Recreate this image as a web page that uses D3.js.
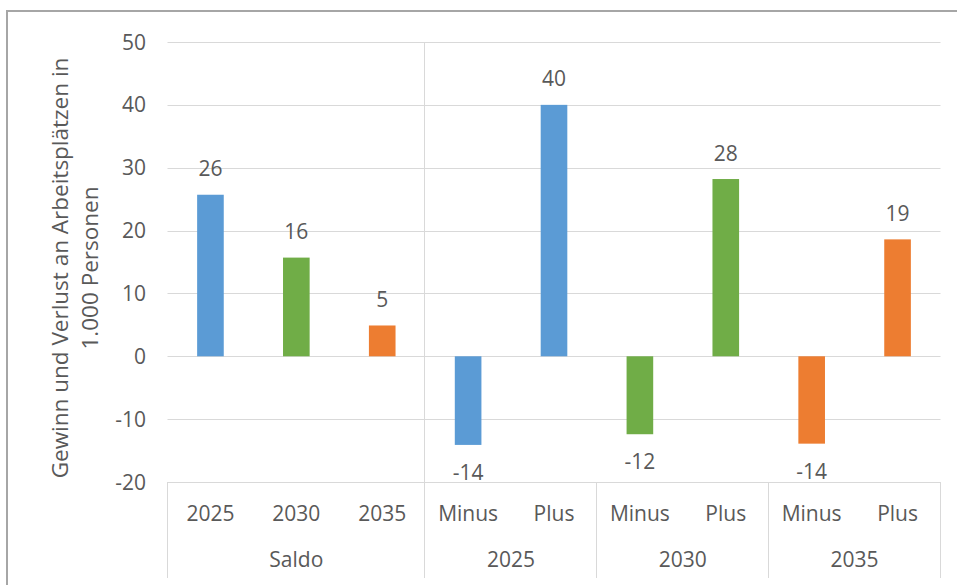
<!DOCTYPE html>
<html><head><meta charset="utf-8">
<script src="https://cdn.jsdelivr.net/npm/d3@7"></script>
<style>html,body{margin:0;padding:0;background:#fff;}svg{display:block;}</style>
</head><body>
<svg id="chart" width="957" height="585"></svg>
<script>
const categories = ["2025","2030","2035","Minus","Plus","Minus","Plus","Minus","Plus"];
const groups = ["Saldo","2025","2030","2035"];
const groupSizes = [3,2,2,2];
const values = [25.7,15.7,4.9,-14.1,40.0,-12.4,28.2,-13.9,18.6];
const valueLabels = ["26","16","5","-14","40","-12","28","-14","19"];
const seriesKeys = ["2025","2030","2035","2025","2025","2030","2030","2035","2035"];
const yTicks = [-20,-10,0,10,20,30,40,50];
const colorMap = {"2025":"#5B9BD5","2030":"#70AD47","2035":"#ED7D31"};

(function(){
const svg = d3.select("#chart");
const font = "'Open Sans', sans-serif";
const textColor = "#595959";
const gridColor = "#d9d9d9";

// chart border
svg.append("rect").attr("x",7).attr("y",11).attr("width",980).attr("height",620)
  .attr("fill","none").attr("stroke","#a6a6a6").attr("stroke-width",2);

const pLeft = 167.5, pRight = 940.5, pTop = 42, pBottom = 482;
const x = d3.scaleBand().domain(d3.range(categories.length)).range([pLeft,pRight]).padding(0);
const y = d3.scaleLinear().domain([-20,50]).range([pBottom,pTop]);

// gridlines
svg.append("g").selectAll("line").data(yTicks).join("line")
  .attr("x1",pLeft).attr("x2",pRight)
  .attr("y1",d=>Math.round(y(d))+0.5).attr("y2",d=>Math.round(y(d))+0.5)
  .attr("stroke",gridColor).attr("stroke-width",1);

// y tick labels
svg.append("g").selectAll("text").data(yTicks).join("text")
  .attr("x",146).attr("y",d=>y(d)).attr("dy","0.36em")
  .attr("text-anchor","end").attr("font-family",font).attr("font-size",21)
  .attr("fill",textColor).text(d=>d);

// group separators
let cum = 0;
const groupBounds = groupSizes.map(s=>{const start=cum; cum+=s; return [start,cum];});
const sepXs = [pLeft].concat(groupBounds.map(b=>b[1]===categories.length?pRight:x(b[1])));
const sepG = svg.append("g");
sepXs.forEach((sx,i)=>{
  const xx = Math.round(sx)-0.5;
  sepG.append("line").attr("x1",xx).attr("x2",xx)
    .attr("y1", i===1 ? pTop : pBottom).attr("y2",578)
    .attr("stroke",gridColor).attr("stroke-width",1);
});

// bars
const bw = x.bandwidth()*0.31;
svg.append("g").selectAll("rect").data(values).join("rect")
  .attr("x",(d,i)=>x(i)+x.bandwidth()/2-bw/2)
  .attr("width",bw)
  .attr("y",d=>y(Math.max(0,d)))
  .attr("height",d=>Math.abs(y(d)-y(0)))
  .attr("fill",(d,i)=>colorMap[seriesKeys[i]]);

// data labels
svg.append("g").selectAll("text").data(values).join("text")
  .attr("x",(d,i)=>x(i)+x.bandwidth()/2)
  .attr("y",d=> d>=0 ? y(d)-18.5 : y(d)+35)
  .attr("text-anchor","middle").attr("font-family",font).attr("font-size",21)
  .attr("fill",textColor).text((d,i)=>valueLabels[i]);

// category labels
svg.append("g").selectAll("text").data(categories).join("text")
  .attr("x",(d,i)=>x(i)+x.bandwidth()/2).attr("y",521)
  .attr("text-anchor","middle").attr("font-family",font).attr("font-size",21)
  .attr("fill",textColor).text(d=>d);

// group labels
svg.append("g").selectAll("text").data(groups).join("text")
  .attr("x",(d,i)=>{const b=groupBounds[i]; return (x(b[0]) + x(b[1]-1)+x.bandwidth())/2;})
  .attr("y",567)
  .attr("text-anchor","middle").attr("font-family",font).attr("font-size",21)
  .attr("fill",textColor).text(d=>d);

// axis title
const title = svg.append("text").attr("transform","translate(68,268) rotate(-90)")
  .attr("text-anchor","middle").attr("font-family",font).attr("font-size",22.5).attr("fill",textColor);
title.append("tspan").attr("x",0).attr("y",0).text("Gewinn und Verlust an Arbeitsplätzen in");
title.append("tspan").attr("x",0).attr("y",30).text("1.000 Personen");
})();
</script>
</body></html>
